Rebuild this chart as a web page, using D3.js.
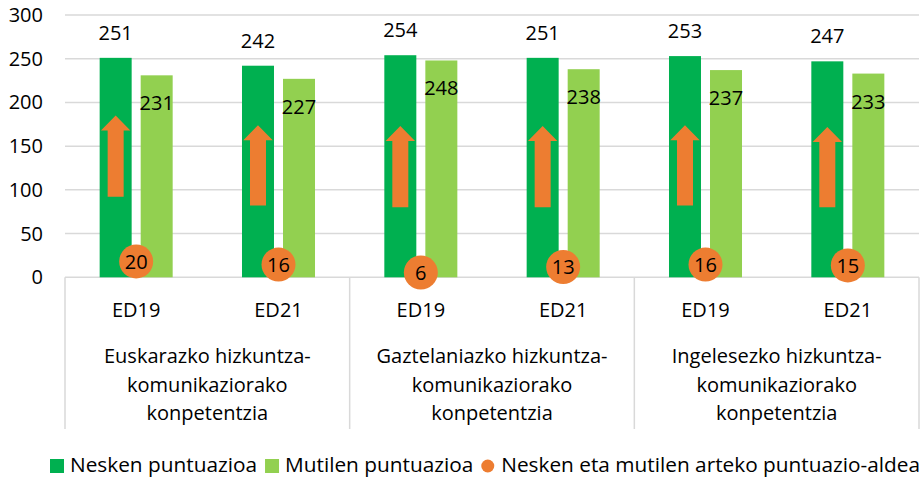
<!DOCTYPE html>
<html>
<head>
<meta charset="utf-8">
<script src="https://cdn.jsdelivr.net/npm/d3@7"></script>
<style>
  body { margin: 0; background: #fff; }
  svg text { font-family: "Open Sans", sans-serif; fill: #000; }
</style>
</head>
<body>
<svg id="chart" width="922" height="477"></svg>
<script>
// data
var competences = [
  ["Euskarazko hizkuntza-", "komunikaziorako", "konpetentzia"],
  ["Gaztelaniazko hizkuntza-", "komunikaziorako", "konpetentzia"],
  ["Ingelesezko hizkuntza-", "komunikaziorako", "konpetentzia"]
];
var editions = ["ED19", "ED21"];
var neskak  = [251, 242, 254, 251, 253, 247];
var mutilak = [231, 227, 248, 238, 237, 233];
var aldea   = [20, 16, 6, 13, 16, 15];
// arrows drawn inside the girls' bars (value range top/bottom)
var arrowTop    = [185, 174, 173, 173, 174, 172];
var arrowBottom = [92, 82, 80, 80, 82, 80];
var yTicks = [0, 50, 100, 150, 200, 250, 300];
var legendLabels = ["Nesken puntuazioa", "Mutilen puntuazioa", "Nesken eta mutilen arteko puntuazio-aldea"];

var colDark = "#00B050", colLight = "#92D050", colOrange = "#ED7D31", colGrid = "#D9D9D9";
var fontSize = 20;

var svg = d3.select("#chart");
var margin = {left: 65, right: 3, top: 15, bottom: 200};
var width = 922, height = 477;

var keys = [];
competences.forEach(function(c, ci) {
    editions.forEach(function(e) { keys.push(ci + "|" + e); });
});

var x = d3.scaleBand().domain(keys).range([margin.left, width - margin.right]);
var inner = d3.scaleBand().domain(["n", "m"]).range([0, x.bandwidth()])
    .paddingInner(0.22).paddingOuter(0.845);
var y = d3.scaleLinear().domain([0, 300]).range([277.3, margin.top]);
// hidden secondary axis used by the gap markers
var y2 = d3.scaleLinear().domain([0, 330]).range([277.3, margin.top]);

// gridlines
svg.append("g").selectAll("line").data(yTicks).enter().append("line")
    .attr("x1", margin.left).attr("x2", width - margin.right)
    .attr("y1", function(d) { return y(d); }).attr("y2", function(d) { return y(d); })
    .attr("stroke", colGrid).attr("stroke-width", 1.5);

// y tick labels
svg.append("g").selectAll("text").data(yTicks).enter().append("text")
    .attr("x", 43).attr("y", function(d) { return y(d); })
    .attr("dy", "0.35em").attr("text-anchor", "end")
    .style("font-size", fontSize + "px")
    .text(function(d) { return d; });

// group separators
var groupEdges = d3.range(competences.length + 1).map(function(i) {
    return i < competences.length ? x(i + "|" + editions[0]) : width - margin.right;
});
svg.append("g").selectAll("line").data(groupEdges).enter().append("line")
    .attr("x1", function(d) { return d; }).attr("x2", function(d) { return d; })
    .attr("y1", y(0)).attr("y2", 429)
    .attr("stroke", colGrid).attr("stroke-width", 1.5);

// bars
var bars = svg.append("g");
bars.selectAll(".neska").data(neskak).enter().append("rect")
    .attr("x", function(d, i) { return x(keys[i]) + inner("n"); })
    .attr("width", inner.bandwidth())
    .attr("y", function(d) { return y(d); })
    .attr("height", function(d) { return y(0) - y(d); })
    .attr("fill", colDark);
bars.selectAll(".mutil").data(mutilak).enter().append("rect")
    .attr("x", function(d, i) { return x(keys[i]) + inner("m"); })
    .attr("width", inner.bandwidth())
    .attr("y", function(d) { return y(d); })
    .attr("height", function(d) { return y(0) - y(d); })
    .attr("fill", colLight);

// arrows
var bw = inner.bandwidth();
svg.append("g").selectAll("path").data(arrowTop).enter().append("path")
    .attr("d", function(d, i) {
        var cx = x(keys[i]) + inner("n") + bw / 2;
        var t = y(d), b = y(arrowBottom[i]), hb = t + 15;
        var hw = bw * 0.46, sw = bw * 0.25;
        return "M" + cx + "," + t + "L" + (cx + hw) + "," + hb + "L" + (cx + sw) + "," + hb +
            "L" + (cx + sw) + "," + b + "L" + (cx - sw) + "," + b + "L" + (cx - sw) + "," + hb +
            "L" + (cx - hw) + "," + hb + "Z";
    })
    .attr("fill", colOrange);

// value labels
svg.append("g").selectAll("text").data(neskak).enter().append("text")
    .attr("x", function(d, i) { return x(keys[i]) + inner("n") + bw / 2; })
    .attr("y", function(d) { return y(d) - 18; })
    .attr("text-anchor", "middle").style("font-size", fontSize + "px")
    .text(function(d) { return d; });
svg.append("g").selectAll("text").data(mutilak).enter().append("text")
    .attr("x", function(d, i) { return x(keys[i]) + inner("m") + bw / 2; })
    .attr("y", function(d) { return y(d) + 35; })
    .attr("text-anchor", "middle").style("font-size", fontSize + "px")
    .text(function(d) { return d; });

// gap markers
var gap = svg.append("g").selectAll("g").data(aldea).enter().append("g")
    .attr("transform", function(d, i) {
        return "translate(" + (x(keys[i]) + x.bandwidth() / 2) + "," + y2(d) + ")";
    });
gap.append("circle").attr("r", 17).attr("fill", colOrange);
gap.append("text").attr("text-anchor", "middle").attr("dy", "0.36em")
    .style("font-size", fontSize + "px")
    .text(function(d) { return d; });

// x labels
svg.append("g").selectAll("text").data(keys).enter().append("text")
    .attr("x", function(d) { return x(d) + x.bandwidth() / 2; })
    .attr("y", 317).attr("text-anchor", "middle").style("font-size", fontSize + "px")
    .text(function(d) { return d.split("|")[1]; });

var grp = svg.append("g").selectAll("text").data(competences).enter().append("text")
    .attr("text-anchor", "middle").style("font-size", fontSize + "px")
    .attr("transform", function(d, i) {
        return "translate(" + ((groupEdges[i] + groupEdges[i + 1]) / 2) + ",0)";
    });
grp.selectAll("tspan").data(function(d) { return d; }).enter().append("tspan")
    .attr("x", 0).attr("y", function(d, j) { return 363 + j * 28.5; })
    .text(function(d) { return d; });

// legend
var legend = svg.append("g");
var lx = 50;
legendLabels.forEach(function(lab, i) {
    if (i < 2) {
        legend.append("rect").attr("x", lx).attr("y", 459).attr("width", 14).attr("height", 14)
            .attr("fill", i == 0 ? colDark : colLight);
    } else {
        legend.append("circle").attr("cx", lx + 6.5).attr("cy", 466).attr("r", 6.5).attr("fill", colOrange);
    }
    var t = legend.append("text").attr("x", lx + 20).attr("y", 472)
        .style("font-size", "20.8px").text(lab);
    lx = lx + 20 + t.node().getComputedTextLength() + 8;
});
</script>
</body>
</html>
